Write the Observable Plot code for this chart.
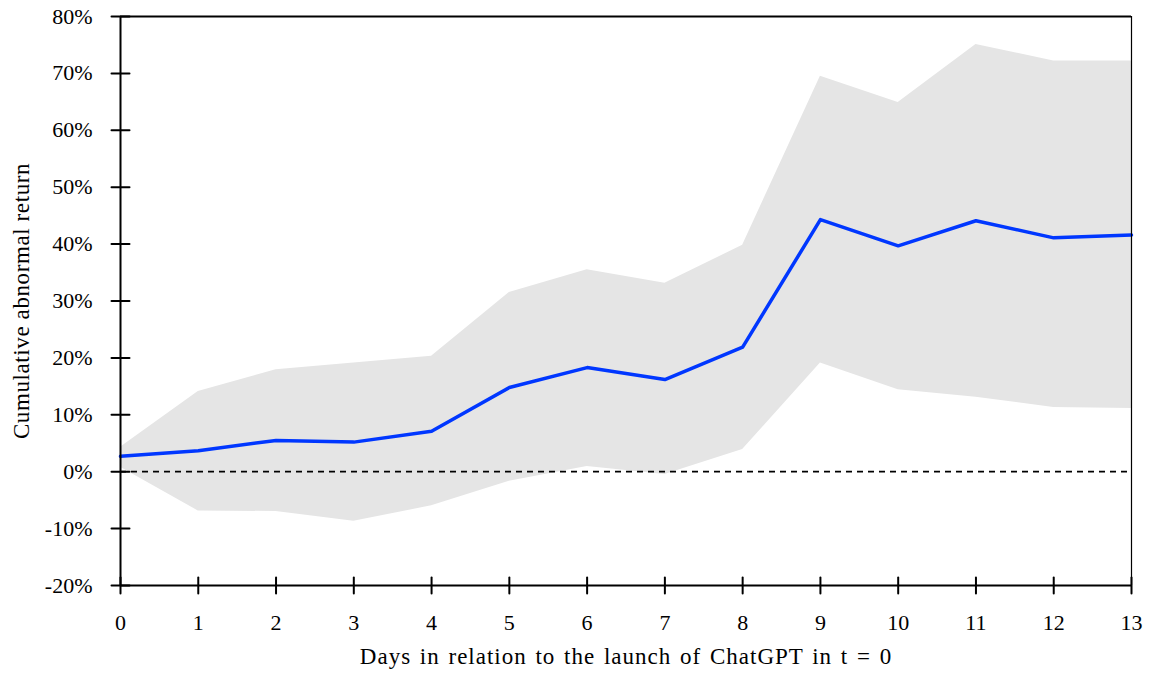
<!DOCTYPE html>
<html><head><meta charset="utf-8">
<script src="https://cdn.jsdelivr.net/npm/d3@7"></script>
<script src="https://cdn.jsdelivr.net/npm/@observablehq/plot@0.6"></script>
<style>
body{margin:0;background:#fff} svg{display:block}
</style>
</head><body><div id="chart"></div>
<script>
const days = [0,1,2,3,4,5,6,7,8,9,10,11,12,13];
const meanCAR = [2.7,3.7,5.5,5.2,7.1,14.8,18.3,16.2,21.9,44.3,39.7,44.1,41.1,41.6];
const upperCI = [4.3,14.1,17.9,19.1,20.3,31.5,35.5,33.1,39.8,69.5,64.9,75.1,72.2,72.2];
const lowerCI = [0.8,-6.9,-7.0,-8.7,-6.0,-1.7,0.9,-0.5,3.9,19.1,14.4,13.1,11.3,11.1];
const yTicks = [-20,-10,0,10,20,30,40,50,60,70,80];
const xTicks = days;
const xLabel = "Days in relation to the launch of ChatGPT in t = 0";
const yLabel = "Cumulative abnormal return";

const rows = days.map((d, i) => ({day: d, mean: meanCAR[i], lo: lowerCI[i], hi: upperCI[i]}));
const tickShape = {draw(ctx, l) { ctx.moveTo(0, 0); ctx.lineTo(0, -l); }};

const chart = Plot.plot({
  width: 1151,
  height: 681,
  marginLeft: 120,
  marginRight: 20,
  marginTop: 16,
  marginBottom: 96,
  style: {fontFamily: "'Liberation Serif', serif", fontSize: "22px", color: "#000", background: "#fff"},
  x: {domain: [0, 13]},
  y: {domain: [-20, 80]},
  marks: [
    Plot.areaY(rows, {x: "day", y1: "lo", y2: "hi", fill: "#e5e5e5"}),
    Plot.ruleY([0], {stroke: "#000", strokeWidth: 1.8, strokeDasharray: "6,5"}),
    Plot.lineY(rows, {x: "day", y: "mean", stroke: "#0037ff", strokeWidth: 3.5}),
    Plot.ruleX([0], {stroke: "#000", strokeWidth: 2}),
    Plot.ruleX([13], {stroke: "#000", strokeWidth: 1.2}),
    Plot.ruleY([-20], {stroke: "#000", strokeWidth: 2}),
    Plot.ruleY([80], {stroke: "#000", strokeWidth: 2}),
    Plot.vector(yTicks, {x: 0, y: d => d, length: 18, rotate: 90, anchor: "middle", shape: tickShape, stroke: "#000", strokeWidth: 2}),
    Plot.vector(xTicks, {x: d => d, y: -20, length: 16, rotate: 0, anchor: "middle", shape: tickShape, stroke: "#000", strokeWidth: 2}),
    Plot.axisY(yTicks, {tickSize: 0, tickPadding: 28, tickFormat: d => d + "%", label: null, fontSize: 22}),
    Plot.axisX(xTicks, {tickSize: 0, tickPadding: 29, tickFormat: d => String(d), label: null, fontSize: 22}),
    Plot.text([xLabel], {text: d => d, frameAnchor: "bottom", textAnchor: "middle", dy: 78, fontSize: 23}),
    Plot.text([yLabel], {text: d => d, frameAnchor: "left", textAnchor: "middle", dx: -99, rotate: -90, fontSize: 23})
  ]
});
d3.select(chart).selectAll("text").each(function() {
  const t = this.textContent;
  if (t === xLabel) d3.select(this).style("letter-spacing", "1px").style("word-spacing", "2px");
  if (t === yLabel) d3.select(this).style("letter-spacing", "0.6px");
});
document.getElementById("chart").appendChild(chart);
</script>
</body></html>
